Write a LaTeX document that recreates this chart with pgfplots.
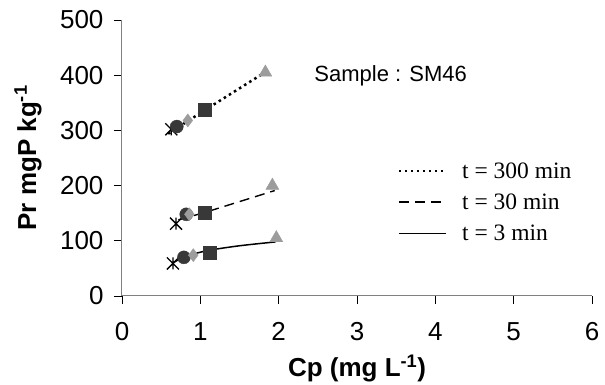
\documentclass[border=0pt]{standalone}
\usepackage{pgfplots}
\pgfplotsset{compat=1.18}
\usepackage{fontspec}
\setmainfont{Liberation Sans}
\newfontfamily\timesf{Liberation Serif}
\definecolor{axgray}{HTML}{808080}
\definecolor{darkm}{HTML}{383838}
\definecolor{lightm}{HTML}{9C9C9C}
\pgfdeclareplotmark{xstar}{%
  \pgfpathmoveto{\pgfpoint{-\pgfplotmarksize}{-\pgfplotmarksize}}%
  \pgfpathlineto{\pgfpoint{\pgfplotmarksize}{\pgfplotmarksize}}%
  \pgfpathmoveto{\pgfpoint{-\pgfplotmarksize}{\pgfplotmarksize}}%
  \pgfpathlineto{\pgfpoint{\pgfplotmarksize}{-\pgfplotmarksize}}%
  \pgfpathmoveto{\pgfpoint{0pt}{-\pgfplotmarksize}}%
  \pgfpathlineto{\pgfpoint{0pt}{\pgfplotmarksize}}%
  \pgfusepathqstroke}
\begin{document}
\begin{tikzpicture}
\useasboundingbox (-122pt,-89pt) rectangle (483pt,296pt);
\begin{axis}[
  scale only axis, width=470pt, height=276pt,
  at={(0pt,0pt)}, anchor=south west,
  xmin=0, xmax=6, ymin=0, ymax=500,
  xtick={0,1,...,6}, ytick={0,100,...,500},
  axis x line=bottom, axis y line=left,
  axis line style={draw=axgray, line width=1pt, -},
  tick align=outside, major tick length=8pt,
  tick style={draw=black, line width=0.8pt},
  /pgf/number format/assume math mode=true,
  ticklabel style={font=\fontsize{26}{30}\selectfont},
  xticklabel style={yshift=-15pt},
  yticklabel style={xshift=-7pt},
  clip=false,
  legend style={draw=none, fill=none, at={(axis cs:4.64,170)}, anchor=center,
    font=\timesf\fontsize{23.5}{27}\selectfont, row sep=10pt, inner sep=0pt,
    cells={anchor=west}},
  legend image code/.code={\draw[#1] (0pt,0pt) -- (47pt,0pt); \path (60pt,0pt);},
]
% markers
\addplot[only marks, mark=xstar, mark size=6pt, mark options={draw=black, line width=1.3pt}, forget plot]
  coordinates {(0.63,302) (0.69,131) (0.65,59)};
\addplot[only marks, mark=*, mark size=6.5pt, mark options={draw=darkm, fill=darkm}, forget plot]
  coordinates {(0.70,307) (0.82,148) (0.79,70)};
\addplot[only marks, mark=diamond*, mark size=6.5pt, mark options={draw=lightm, fill=lightm}, forget plot]
  coordinates {(0.84,318) (0.86,148) (0.91,74)};
\addplot[only marks, mark=square*, mark size=6.5pt, mark options={draw=darkm, fill=darkm}, forget plot]
  coordinates {(1.05,338) (1.05,151) (1.12,78)};
\addplot[only marks, mark=triangle*, mark size=7.5pt, mark options={draw=lightm, fill=lightm}, forget plot]
  coordinates {(1.83,405) (1.92,200) (1.97,105)};
% trend lines
\addplot[black, line width=2.5pt, dash pattern=on 2.5pt off 3.5pt] coordinates {(0.59,294) (1.05,336) (1.80,403)};
\addlegendentry{t = 300 min}
\addplot[black, line width=1.4pt, dash pattern=on 10pt off 6pt] coordinates {(0.72,138) (1.05,151) (1.95,191)};
\addlegendentry{t = 30 min}
\addplot[black, line width=1.5pt, smooth] coordinates {(0.65,60) (0.78,70) (0.91,76) (1.12,83) (1.50,91) (1.96,98)};
\addlegendentry{t = 3 min}
\node[font=\fontsize{22}{26}\selectfont] at (axis cs:3.43,398) {Sample : SM46};
\node[font=\bfseries\fontsize{26}{30}\selectfont] at (axis cs:3.0,-131) {Cp (mg L\textsuperscript{-1})};
\node[font=\bfseries\fontsize{26}{30}\selectfont, rotate=90] at (axis cs:-1.2,250) {Pr mgP kg\textsuperscript{-1}};
\end{axis}
\end{tikzpicture}
\end{document}
